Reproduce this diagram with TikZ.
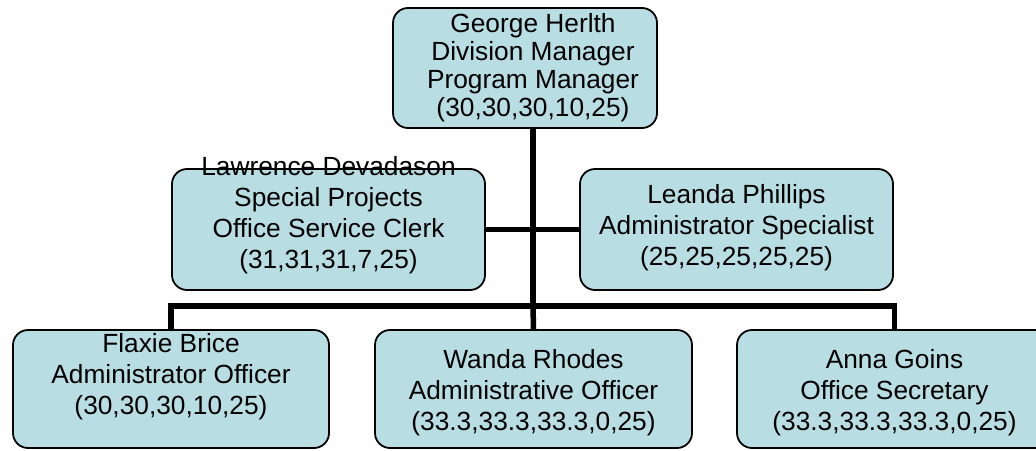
\documentclass[tikz,border=0pt]{standalone}
\usepackage{fontspec}
\setmainfont{Liberation Sans}
\pgfdeclarelayer{bg}
\pgfsetlayers{bg,main}
\definecolor{boxfill}{RGB}{184,222,228}
\tikzset{
    every node/.style={rectangle, rounded corners=15pt, draw, line width=1.8pt, fill=boxfill, minimum width=315pt, minimum height=120pt}
}
\tikzset{every label/.style={draw=none, fill=none, minimum width=0pt, minimum height=0pt, inner sep=0pt, align=center, font=\fontsize{26.3}{31}\selectfont}}
\tikzset{tight/.style={font=\fontsize{26.3}{28}\selectfont}}
\tikzset{wire/.style={line width=5.5pt}}

\begin{document}
\begin{tikzpicture}[x=1pt, y=-1pt]
    \useasboundingbox (0,0) rectangle (1036,450);

    \node (george) [minimum width=264pt, label={[tight, xshift=8pt]center:George Herlth\\Division Manager\\Program Manager\\(30,30,30,10,25)}] at (525,68) {};
    \node (lawrence) [minimum width=313pt, minimum height=121pt, label={[yshift=14pt]center:Lawrence Devadason\\Special Projects\\Office Service Clerk\\(31,31,31,7,25)}] at (328.5,229.5) {};
    \node (leanda) [minimum width=313pt, minimum height=121pt, label={[yshift=1.5pt]center:Leanda Phillips\\Administrator Specialist\\(25,25,25,25,25)}] at (736.5,229.5) {};
    \node (flaxie) [minimum width=316pt, minimum height=118pt, label={[yshift=12pt]center:Flaxie Brice\\Administrator Officer\\(30,30,30,10,25)}] at (171,389) {};
    \node (wanda) [minimum width=317pt, minimum height=118pt, label={[yshift=-4pt]center:Wanda Rhodes\\Administrative Officer\\(33.3,33.3,33.3,0,25)}] at (533.5,389) {};
    \node (anna) [minimum width=315pt, minimum height=118pt, label={[yshift=-4pt]center:Anna Goins\\Office Secretary\\(33.3,33.3,33.3,0,25)}] at (894.5,389) {};

    \coordinate (hub) at (533,306);

    \begin{pgfonlayer}{bg}
        \draw[wire] (george.south -| hub) -- (hub);
        \draw[wire] (lawrence) -- (leanda);
        \draw[wire] (flaxie.north) |- (hub) -| (anna.north);
        \draw[wire] (hub) -- (wanda.north);
    \end{pgfonlayer}
\end{tikzpicture}
\end{document}
